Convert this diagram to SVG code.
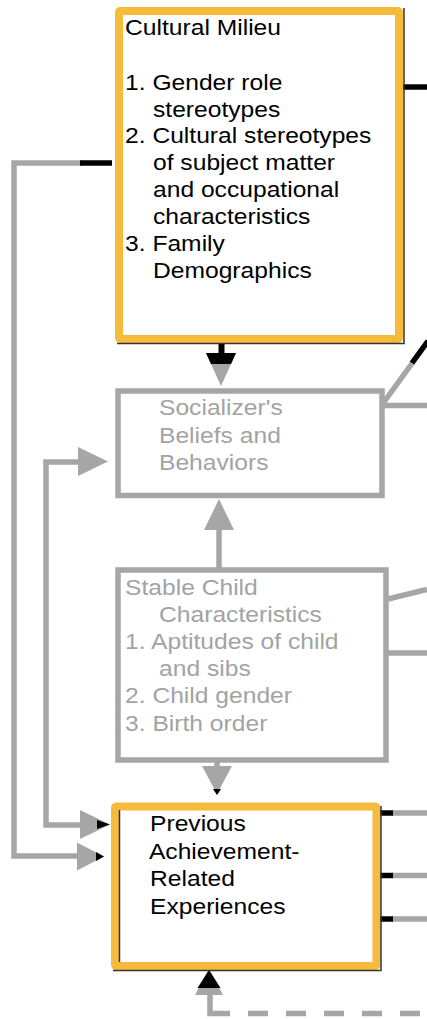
<svg xmlns="http://www.w3.org/2000/svg" width="427" height="1019" viewBox="0 0 427 1019">
<style>
  .txt { font-family: "Liberation Sans", Arial, sans-serif; font-size: 22px; }
  .blk { fill: #000000; }
  .gry { fill: #A3A3A3; }
  .obox { fill: #ffffff; stroke: #F6BB3B; stroke-width: 8; }
  .gbox { fill: #ffffff; stroke: #A6A6A6; stroke-width: 5.5; }
  .gl { fill: none; stroke: #A6A6A6; stroke-width: 5.5; }
  .bl { fill: none; stroke: #000000; stroke-width: 5.5; }
  .gh { fill: #A6A6A6; }
  .bh { fill: #000000; }
  .sh { fill: none; stroke: #333333; stroke-width: 1.5; }
</style>
<rect width="427" height="1019" fill="#ffffff"/>

<g id="connectors">
  <!-- left outer: Cultural Milieu -> Previous -->
  <polyline class="gl" points="82,163 14,163 14,856 80,856"/>
  <line class="bl" x1="80" y1="163" x2="112" y2="163"/>
  <polygon class="gh" points="77,842.5 77,870.5 104,856.5"/>
  <polygon class="bh" points="96,852 96,861 104,856.5"/>
  <!-- left inner: -> Socializer's and -> Previous -->
  <polyline class="gl" points="80,462 46,462 46,825 82,825"/>
  <polygon class="gh" points="78,447 78,476 108,461.5"/>
  <polygon class="gh" points="80,810 80,839 110,824.5"/>
  <polygon class="bh" points="97,820 97,829 110,824.5"/>
  <!-- Cultural Milieu -> Socializer's -->
  <polygon class="gh" points="206,353 236,353 221,386"/>
  <rect class="bh" x="218.5" y="343" width="6" height="12"/>
  <polygon class="bh" points="206,353 236,353 231,364 211,364"/>
  <!-- Stable Child -> Socializer's -->
  <line class="gl" x1="219" y1="568" x2="219" y2="526"/>
  <polygon class="gh" points="204,530 234,530 219,499"/>
  <!-- Stable Child -> Previous -->
  <line class="gl" x1="217" y1="762" x2="217" y2="770"/>
  <polygon class="gh" points="202,766 232,766 217,794"/>
  <polygon class="bh" points="213,789 221,789 217,795"/>
  <!-- bottom dashed feedback into Previous -->
  <polyline class="gl" points="210,995 210,1013.5 230,1013.5"/>
  <line class="gl" x1="230" y1="1013.5" x2="427" y2="1013.5" stroke-dasharray="20 18" stroke-dashoffset="-18"/>
  <polygon class="gh" points="195,995 223,995 209,969"/>
  <polygon class="bh" points="197.5,988 220.5,988 209,970"/>
  <!-- right side -->
  <line class="bl" x1="403" y1="87" x2="427" y2="87" stroke-width="6"/>
  <line class="gl" x1="384" y1="402" x2="413" y2="362" stroke-width="4"/>
  <line class="bl" x1="412" y1="363" x2="428" y2="341" stroke-width="4"/>
  <line class="gl" x1="384" y1="405.5" x2="427" y2="405.5"/>
  <line class="gl" x1="388" y1="599" x2="427" y2="589.5" stroke-width="4"/>
  <line class="gl" x1="385" y1="653" x2="427" y2="653"/>
  <line class="gl" x1="392" y1="813" x2="427" y2="813" stroke-width="5"/>
  <line class="bl" x1="380" y1="813" x2="393" y2="813" stroke-width="5"/>
  <line class="gl" x1="392" y1="875.5" x2="427" y2="875.5" stroke-width="5"/>
  <line class="bl" x1="380" y1="875.5" x2="393" y2="875.5" stroke-width="5"/>
  <line class="gl" x1="392" y1="919" x2="427" y2="919" stroke-width="5"/>
  <line class="bl" x1="380" y1="919" x2="393" y2="919" stroke-width="5"/>
</g>

<g id="cultural-milieu">
  <rect class="obox" x="119" y="11" width="280" height="328" rx="1"/>
  <polyline class="sh" points="404,8 404,343.5 117,343.5"/>
  <g class="txt blk" transform="translate(125 0) scale(1.12 1)">
    <text x="0" y="35">Cultural Milieu</text>
    <text x="0" y="90.5">1. Gender role</text>
    <text x="25" y="117">stereotypes</text>
    <text x="0" y="143.5">2. Cultural stereotypes</text>
    <text x="25" y="170">of subject matter</text>
    <text x="25" y="197">and occupational</text>
    <text x="25" y="224">characteristics</text>
    <text x="0" y="251">3. Family</text>
    <text x="25" y="278">Demographics</text>
  </g>
</g>

<g id="socializers-beliefs">
  <rect class="gbox" x="118" y="391" width="264" height="104.5"/>
  <g class="txt gry" transform="translate(159 0) scale(1.12 1)">
    <text x="0" y="415.5">Socializer's</text>
    <text x="0" y="443">Beliefs and</text>
    <text x="0" y="470">Behaviors</text>
  </g>
</g>

<g id="stable-child">
  <rect class="gbox" x="118" y="570" width="268" height="190"/>
  <g class="txt gry" transform="translate(125 0) scale(1.12 1)">
    <text x="0" y="595">Stable Child</text>
    <text x="30.4" y="622">Characteristics</text>
    <text x="0" y="649">1. Aptitudes of child</text>
    <text x="30.4" y="676">and sibs</text>
    <text x="0" y="703">2. Child gender</text>
    <text x="0" y="731">3. Birth order</text>
  </g>
</g>

<g id="previous-experiences">
  <rect class="obox" x="115" y="806.5" width="261.5" height="159.5" rx="1.5"/>
  <line class="sh" x1="119.5" y1="810" x2="119.5" y2="962"/>
  <polyline class="sh" points="381,806 381,970.5 113,970.5"/>
  <g class="txt blk" transform="translate(150 0) scale(1.12 1)">
    <text x="0" y="831">Previous</text>
    <text x="-1" y="859">Achievement-</text>
    <text x="0" y="886.5">Related</text>
    <text x="0" y="914">Experiences</text>
  </g>
</g>
</svg>
